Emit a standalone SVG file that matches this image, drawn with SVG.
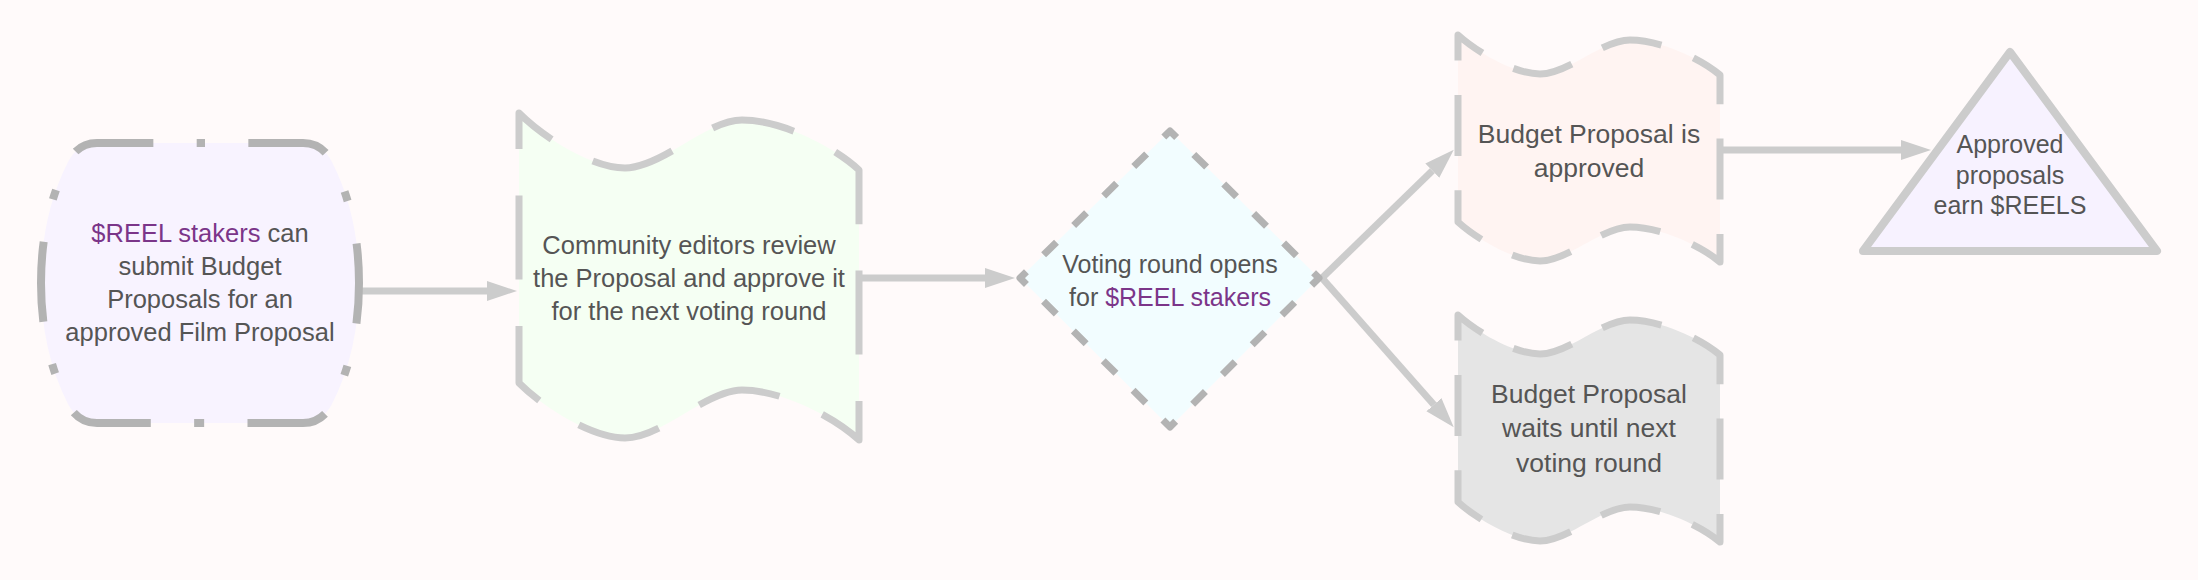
<svg xmlns="http://www.w3.org/2000/svg" width="2198" height="580" viewBox="0 0 2198 580">
<defs>
<style>
.bg{fill:#fffafa}
.lbl{font-family:"Liberation Sans",Arial,sans-serif;fill:#555555;text-anchor:middle}
.hl{fill:#7b3589}
.edge{fill:none;stroke:#cccccc;stroke-width:7}
.flag{stroke:#cccccc;stroke-width:7;stroke-linejoin:round}
</style>
<marker id="arrow" markerUnits="userSpaceOnUse" markerWidth="31" markerHeight="21" refX="0" refY="10" orient="auto">
<path d="M0,0 L30,10 L0,20 Z" fill="#cccccc"/>
</marker>
</defs>
<rect class="bg" x="0" y="0" width="2198" height="580"/>

<g id="connectors">
<line class="edge" x1="362" y1="291" x2="487" y2="291" marker-end="url(#arrow)"/>
<line class="edge" x1="858" y1="278" x2="985" y2="278" marker-end="url(#arrow)"/>
<line class="edge" x1="1322" y1="278" x2="1432.3" y2="170.7" marker-end="url(#arrow)"/>
<line class="edge" x1="1322" y1="278" x2="1433.9" y2="404.7" marker-end="url(#arrow)"/>
<line class="edge" x1="1720" y1="150" x2="1901" y2="150" marker-end="url(#arrow)"/>
</g>

<g id="node-submit">
<path d="M200,143 L303,143 Q322,143 332,162 Q359,215 359,283 Q359,351 332,404 Q322,423 303,423 L97,423 Q78,423 68,404 Q41,351 41,283 Q41,215 68,162 Q78,143 97,143 Z" fill="#f8f3ff" stroke="#b3b3b3" stroke-width="8" stroke-dasharray="10 43.35 80 43.35" stroke-dashoffset="5"/>
<text class="lbl" x="200" y="242" font-size="25.5"><tspan class="hl">$REEL stakers</tspan> can</text>
<text class="lbl" x="200" y="275" font-size="25.5">submit Budget</text>
<text class="lbl" x="200" y="308" font-size="25.5">Proposals for an</text>
<text class="lbl" x="200" y="341" font-size="25.5">approved Film Proposal</text>
</g>

<g id="node-review">
<path class="flag" d="M519,113 C545,139 593,168 625,168 C662,168 706,120 742,120 C781,120 833,146 859,170 L859,440 C833,416 781,390 742,390 C706,390 662,438 625,438 C593,438 545,409 519,383 Z" fill="#f5fff3" stroke-dasharray="84 46.4" stroke-dashoffset="42"/>
<text class="lbl" x="689" y="254" font-size="25.5">Community editors review</text>
<text class="lbl" x="689" y="287" font-size="25.5">the Proposal and approve it</text>
<text class="lbl" x="689" y="320" font-size="25.5">for the next voting round</text>
</g>

<g id="node-vote">
<path d="M1020,278 L1170,131 L1319,278 L1170,427 Z" fill="#f2fdff" stroke="#b3b3b3" stroke-width="7" stroke-linejoin="round" stroke-dasharray="18 24.07" stroke-dashoffset="9"/>
<text class="lbl" x="1170" y="273" font-size="25">Voting round opens</text>
<text class="lbl" x="1170" y="306" font-size="25">for <tspan class="hl">$REEL stakers</tspan></text>
</g>

<g id="node-approved">
<path class="flag" d="M1458,35 C1478,53 1515,74 1540,74 C1568,74 1602,40 1630,40 C1660,40 1700,58 1720,75 L1720,262 C1700,245 1660,227 1630,227 C1602,227 1568,261 1540,261 C1515,261 1478,240 1458,222 Z" fill="#fff4f2" stroke-dasharray="61 34.4" stroke-dashoffset="30.5"/>
<text class="lbl" x="1589" y="143" font-size="26.5">Budget Proposal is</text>
<text class="lbl" x="1589" y="177" font-size="26.5">approved</text>
</g>

<g id="node-waits">
<path class="flag" d="M1458,315 C1478,333 1515,354 1540,354 C1568,354 1602,320 1630,320 C1660,320 1700,338 1720,355 L1720,542 C1700,525 1660,507 1630,507 C1602,507 1568,541 1540,541 C1515,541 1478,520 1458,502 Z" fill="#e5e5e5" stroke-dasharray="61 34.4" stroke-dashoffset="30.5"/>
<text class="lbl" x="1589" y="403" font-size="26.5">Budget Proposal</text>
<text class="lbl" x="1589" y="437" font-size="26.5">waits until next</text>
<text class="lbl" x="1589" y="472" font-size="26.5">voting round</text>
</g>

<g id="node-earn">
<polygon points="2010,52 2157,251 1863,251" fill="#f7f2ff" stroke="#cccccc" stroke-width="8" stroke-linejoin="round"/>
<text class="lbl" x="2010" y="153" font-size="25">Approved</text>
<text class="lbl" x="2010" y="184" font-size="25">proposals</text>
<text class="lbl" x="2010" y="214" font-size="25">earn $REELS</text>
</g>
</svg>
